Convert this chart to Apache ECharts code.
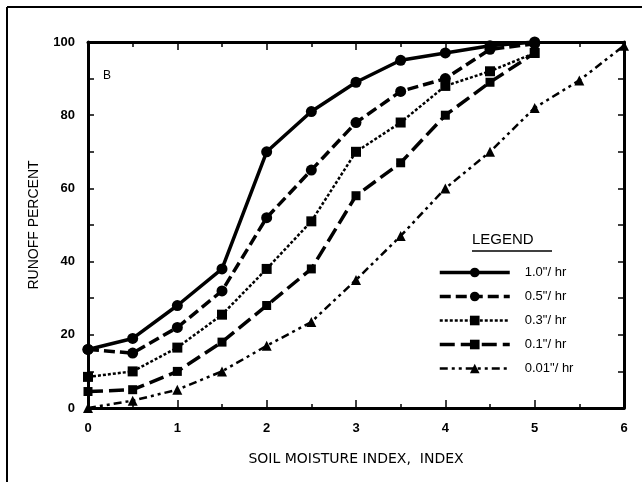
<!DOCTYPE html>
<html>
<head>
<meta charset="utf-8">
<script src="https://cdn.jsdelivr.net/npm/echarts@6/dist/echarts.min.js"></script>
<style>
html,body{margin:0;padding:0;background:#fff;}
#chart{width:642px;height:482px;}
</style>
</head>
<body>
<div id="chart"></div>
<script>
// soil moisture index (x) and runoff percent per rainfall rate
var moistIdx = [0, 0.5, 1, 1.5, 2, 2.5, 3, 3.5, 4, 4.5, 5];
var moistIdxLong = [0, 0.5, 1, 1.5, 2, 2.5, 3, 3.5, 4, 4.5, 5, 5.5, 6];
var run10 = [16, 19, 28, 38, 70, 81, 89, 95, 97, 99, 100];
var run05 = [16, 15, 22, 32, 52, 65, 78, 86.5, 90, 98, 99.5];
var run03 = [8.5, 10, 16.5, 25.5, 38, 51, 70, 78, 88, 92, 97];
var run01 = [4.5, 5, 10, 18, 28, 38, 58, 67, 80, 89, 97];
var run001 = [0, 2, 5, 10, 17, 23.5, 35, 47, 60, 70, 82, 89.5, 99];
var rateNames = ['1.0"/ hr', '0.5"/ hr', '0.3"/ hr', '0.1"/ hr', '0.01"/ hr'];
var xTicks = [0, 1, 2, 3, 4, 5, 6];
var yTicks = [0, 20, 40, 60, 80, 100];

var fontName = '"Liberation Sans", Arial, sans-serif';
var wideFont = '"DejaVu Sans", sans-serif';

/**
 * x,y数组拼成点
 */
function toPoints(xs, ys)
{
	var pts = [];
	for (var i = 0; i < ys.length; i++)
	{
		pts.push([xs[i], ys[i]]);
	}
	return pts;
}

function makeSeries(name, pts, symbol, size, width, dash)
{
	return {
		name: name,
		type: 'line',
		data: pts,
		symbol: symbol,
		symbolSize: size,
		showSymbol: true,
		clip: false,
		z: 3,
		itemStyle: {color: '#000', borderWidth: 0},
		lineStyle: {color: '#000', width: width, type: dash, cap: 'butt'},
		emphasis: {disabled: true}
	};
}

var tickStyle = {color: '#000', width: 1.5};

var myChart = echarts.init(document.getElementById('chart'));
var option = {
	backgroundColor: '#fff',
	animation: false,
	grid: {left: 88, right: 18, top: 42, bottom: 74},
	legend: {
		orient: 'vertical',
		left: 433,
		top: 261,
		itemWidth: 70,
		itemHeight: 12,
		itemGap: 11,
		data: rateNames,
		lineStyle: {width: 'inherit'},
		textStyle: {fontFamily: fontName, fontSize: 13, color: '#000', padding: [0, 0, 0, 10]},
		selectedMode: false
	},
	xAxis: [
		{
			type: 'value', min: xTicks[0], max: xTicks[xTicks.length - 1], interval: 1,
			name: 'SOIL MOISTURE INDEX,  INDEX', nameLocation: 'middle', nameGap: 44,
			nameTextStyle: {fontFamily: wideFont, fontSize: 14, color: '#000'},
			axisLine: {onZero: false, lineStyle: {color: '#000', width: 3}},
			axisTick: {inside: true, length: 8, lineStyle: tickStyle},
			minorTick: {show: true, splitNumber: 2, length: 4, lineStyle: tickStyle},
			splitLine: {show: false},
			axisLabel: {margin: 14, fontFamily: fontName, fontSize: 13, fontWeight: 'bold', color: '#000'}
		},
		{
			type: 'value', position: 'top', min: 0, max: 6, interval: 1,
			axisLine: {onZero: false, lineStyle: {color: '#000', width: 3}},
			axisTick: {inside: true, length: 8, lineStyle: tickStyle},
			minorTick: {show: true, splitNumber: 2, length: 5, lineStyle: tickStyle},
			splitLine: {show: false},
			axisLabel: {show: false}
		}
	],
	yAxis: [
		{
			type: 'value', min: yTicks[0], max: yTicks[yTicks.length - 1], interval: 20,
			name: 'RUNOFF PERCENT', nameLocation: 'middle', nameGap: 47,
			nameTextStyle: {fontFamily: fontName, fontSize: 14, color: '#000'},
			axisLine: {show: true, onZero: false, lineStyle: {color: '#000', width: 3}},
			axisTick: {show: true, inside: true, length: 6, lineStyle: tickStyle},
			minorTick: {show: true, splitNumber: 2, length: 6, lineStyle: tickStyle},
			splitLine: {show: false},
			axisLabel: {margin: 13, fontFamily: fontName, fontSize: 13, fontWeight: 'bold', color: '#000'}
		},
		{
			type: 'value', position: 'right', min: 0, max: 100, interval: 20,
			axisLine: {show: true, onZero: false, lineStyle: {color: '#000', width: 3}},
			axisTick: {show: true, inside: true, length: 6, lineStyle: tickStyle},
			minorTick: {show: true, splitNumber: 2, length: 6, lineStyle: tickStyle},
			splitLine: {show: false},
			axisLabel: {show: false}
		}
	],
	graphic: [
		// 外框(只有左边和上边)
		{type: 'line', shape: {x1: 7, y1: 7, x2: 642, y2: 7}, style: {stroke: '#000', lineWidth: 2}},
		{type: 'line', shape: {x1: 7, y1: 7, x2: 7, y2: 482}, style: {stroke: '#000', lineWidth: 2}},
		{type: 'text', left: 103, top: 70, style: {text: 'B', font: '12px ' + fontName, fill: '#000'}},
		{type: 'text', left: 472, top: 232, style: {text: 'LEGEND', font: '15px ' + fontName, fill: '#000'}},
		{type: 'line', shape: {x1: 472, y1: 251, x2: 552, y2: 251}, style: {stroke: '#000', lineWidth: 1.5}}
	],
	series: [
		makeSeries(rateNames[0], toPoints(moistIdx, run10), 'circle', 11, 3.5, 'solid'),
		makeSeries(rateNames[1], toPoints(moistIdx, run05), 'circle', 11, 3.5, [11, 5]),
		makeSeries(rateNames[2], toPoints(moistIdx, run03), 'rect', 10, 2.5, [3, 2]),
		makeSeries(rateNames[3], toPoints(moistIdx, run01), 'rect', 9, 3.5, [15, 6]),
		makeSeries(rateNames[4], toPoints(moistIdxLong, run001), 'triangle', 10, 2.5, [8, 4, 3, 4, 3, 4])
	]
};
myChart.setOption(option);
</script>
</body>
</html>
